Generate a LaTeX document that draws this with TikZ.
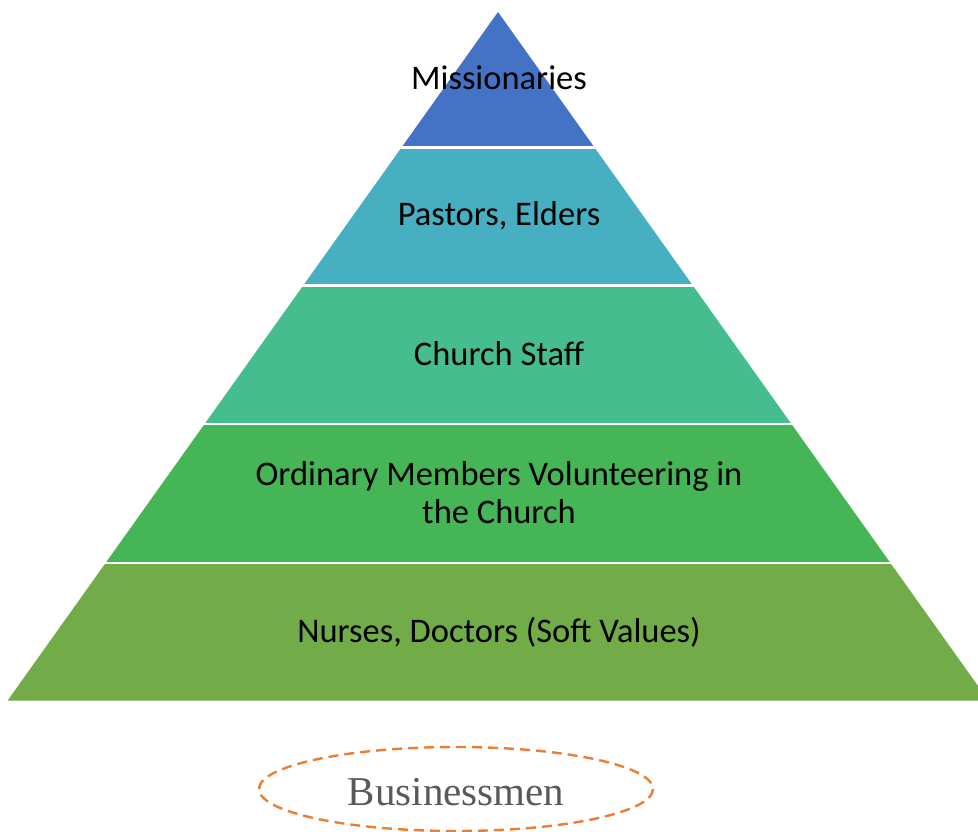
\documentclass[tikz,border=0pt]{standalone}
\usepackage{fontspec}
\setmainfont{Carlito}
\newfontfamily\bizfont{Liberation Serif}
\definecolor{cA}{HTML}{4472C4}
\definecolor{cB}{HTML}{46AFC2}
\definecolor{cC}{HTML}{45BD8E}
\definecolor{cD}{HTML}{46B555}
\definecolor{cE}{HTML}{71AC48}
\definecolor{orng}{HTML}{ED7D31}
\definecolor{gtext}{HTML}{595959}
\tikzset{
  lbl/.style={font=\fontsize{34.5}{38}\selectfont, text=black, align=center},
  sep/.style={white, line width=2.6pt},
}
\begin{document}
\begin{tikzpicture}[x=1pt,y=-1pt]
\useasboundingbox (0,0) rectangle (978,832);
\pgfmathsetmacro{\ax}{498}
\pgfmathsetmacro{\ay}{12}
\pgfmathsetmacro{\k}{490/688}
% layers: top y, bottom y, colour
\foreach \t/\b/\c in {12/147.5/cA, 147.5/285.5/cB, 285.5/424/cC, 424/563/cD, 563/700.5/cE}{
  \pgfmathsetmacro{\wt}{(\t-\ay)*\k}
  \pgfmathsetmacro{\wb}{(\b-\ay)*\k}
  \fill[\c] (\ax-\wt,\t) -- (\ax+\wt,\t) -- (\ax+\wb,\b) -- (\ax-\wb,\b) -- cycle;
}
\foreach \y in {147.5,285.5,424,563}{
  \draw[sep] (0,\y) -- (978,\y);
}
\node[lbl] (miss) at (499,78) {Missionaries};
\node[lbl] (past) at (499,216) {Pastors, Elders};
\node[lbl] (staff) at (499,354) {Church Staff};
\node[lbl] (ord) at (499,493) {Ordinary Members Volunteering in\\the Church};
\node[lbl] (nurse) at (499,632) {Nurses, Doctors (Soft Values)};
\draw[orng, line width=2.4pt, dash pattern=on 10pt off 6pt] (456,789) ellipse [x radius=197, y radius=42];
\node[font=\bizfont\fontsize{41}{46}\selectfont, text=gtext] (biz) at (456,792) {Businessmen};
\end{tikzpicture}
\end{document}
